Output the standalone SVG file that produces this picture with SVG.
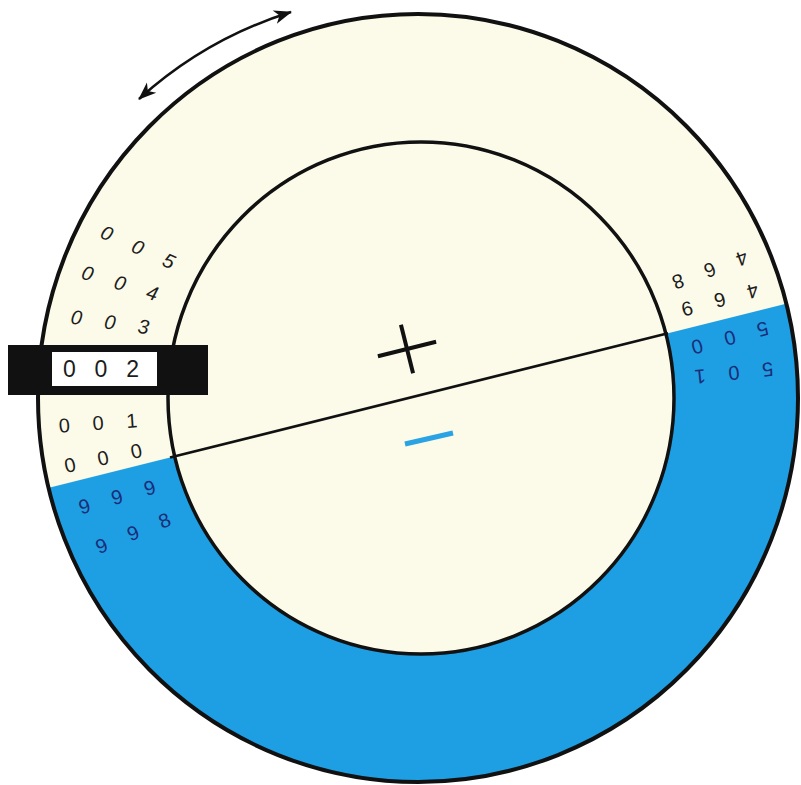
<svg xmlns="http://www.w3.org/2000/svg" width="801" height="785" viewBox="0 0 801 785">
<style>
.dg{font-family:"Liberation Sans",Arial,sans-serif;font-size:20px;letter-spacing:8.6px;text-anchor:middle;fill:#1c1c1c}
.nv{fill:#1b2d78}
.it{font-style:italic}
.win{font-size:23px;letter-spacing:6.2px}
</style>
<defs>
<clipPath id="below"><polygon points="0,500 801,300 801,785 0,785"/></clipPath>
<marker id="ah" viewBox="-18 -8 20 16" refX="0" refY="0" markerWidth="20" markerHeight="16" markerUnits="userSpaceOnUse" orient="auto-start-reverse">
<path d="M1,0 L-17,-7 L-12,0 L-17,7 Z" fill="#111"/>
</marker>
</defs>
<rect width="801" height="785" fill="#ffffff"/>
<g id="dial">
<ellipse cx="418" cy="398" rx="380" ry="384" fill="#fcfbe9"/>
<path d="M38,398 a380,384 0 1,0 760,0 a380,384 0 1,0 -760,0 Z M168,398 a253,256 0 1,0 506,0 a253,256 0 1,0 -506,0 Z" fill="#1e9fe3" fill-rule="evenodd" clip-path="url(#below)"/>
<ellipse cx="418" cy="398" rx="380" ry="384" fill="none" stroke="#111" stroke-width="4"/>
<ellipse cx="421" cy="398" rx="253" ry="256" fill="none" stroke="#111" stroke-width="3.5"/>
</g>
<g id="connectors">
<line x1="170" y1="457.5" x2="668" y2="333.3" stroke="#111" stroke-width="2.6"/>
<path d="M139,99 A408,408 0 0,1 291,12" fill="none" stroke="#111" stroke-width="2.5" marker-start="url(#ah)" marker-end="url(#ah)"/>
</g>
<g id="signs">
<g transform="translate(407,349) rotate(-14)" stroke="#111" stroke-width="4" stroke-linecap="butt">
<line x1="-30" y1="0" x2="30" y2="0"/>
<line x1="0" y1="-25" x2="0" y2="25"/>
</g>
<line x1="405" y1="444" x2="453" y2="433" stroke="#2aa3e4" stroke-width="5"/>
</g>
<g id="window">
<rect x="8" y="345" width="200" height="50" fill="#111"/>
<rect x="52" y="352" width="105" height="34" fill="#ffffff"/>
</g>
<g id="digits">
<g transform="translate(138,247) rotate(24)"><text class="dg it" x="4.3" y="7">0 0 5</text></g>
<g transform="translate(120,283) rotate(17)"><text class="dg it" x="4.3" y="7">0 0 4</text></g>
<g transform="translate(110,322) rotate(8)"><text class="dg it" x="4.3" y="7">0 0 3</text></g>
<g transform="translate(101,369)"><text class="dg win" x="3.1" y="8.2">0 0 2</text></g>
<g transform="translate(98,423) rotate(-4)"><text class="dg" x="4.3" y="7">0 0 1</text></g>
<g transform="translate(103,458) rotate(-12)"><text class="dg" x="4.3" y="7">0 0 0</text></g>
<g transform="translate(117,497) rotate(-16)"><text class="dg nv" x="4.3" y="7">9 9 9</text></g>
<g transform="translate(133,533) rotate(-22)"><text class="dg nv" x="4.3" y="7">9 9 8</text></g>
<g transform="translate(710,270) rotate(160)"><text class="dg" x="4.3" y="7">4 6 8</text></g>
<g transform="translate(720,300) rotate(165)"><text class="dg" x="4.3" y="7">4 6 9</text></g>
<g transform="translate(730,338) rotate(165)"><text class="dg nv" x="4.3" y="7">5 0 0</text></g>
<g transform="translate(734,373) rotate(174)"><text class="dg nv" x="4.3" y="7">5 0 1</text></g>
</g>
</svg>
